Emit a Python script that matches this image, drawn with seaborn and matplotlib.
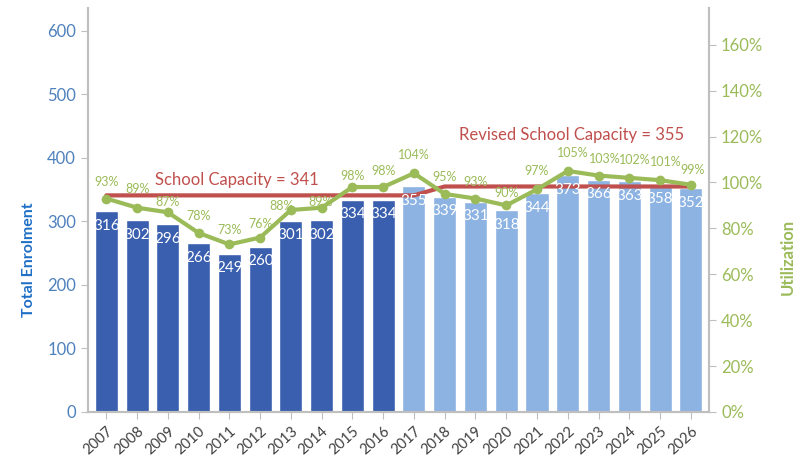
import matplotlib.pyplot as plt
import numpy as np
import pandas as pd
import seaborn as sns

years = [str(y) for y in range(2007, 2027)]
enrolment = [316, 302, 296, 266, 249, 260, 301, 302, 334, 334,
             355, 339, 331, 318, 344, 373, 366, 363, 358, 352]
utilization = [93, 89, 87, 78, 73, 76, 88, 89, 98, 98,
               104, 95, 93, 90, 97, 105, 103, 102, 101, 99]
capacity = [341] * 11 + [355] * 9

# label nudges for the utilization labels (x in bars, y in % points)
lbl_dx = [0] * 6 + [-0.3, -0.05] + [0] * 13
lbl_dy = [7, 8.3, 4.4, 7.4, 6.1, 5.7, 1.6, 2.6, 4.8, 7,
          7.9, 7.4, 7.4, 5.2, 7.9, 7.9, 7.4, 7.6, 7.7, 6.5]
lbl_dx = lbl_dx[:15] + [0.17, 0.2, 0.17, 0.17, 0.07]

dark_blue = "#3A5FAF"
light_blue = "#8DB3E2"
green = "#9BBB59"
red = "#C0504D"
grey = "#BFBFBF"

sns.set_style("white")
plt.rcParams['font.family'] = ['Lato', 'DejaVu Sans']

df = pd.DataFrame({"Year": years, "Enrolment": enrolment,
                   "Utilization": utilization, "Capacity": capacity})
df["pos"] = np.arange(len(years))
pal = [dark_blue] * 10 + [light_blue] * 10

fig = plt.figure(figsize=(8.06, 4.57), dpi=100)
ax = fig.add_axes([0.109, 0.0985, 0.771, 0.884])

sns.barplot(data=df, x="Year", y="Enrolment", hue="Year", palette=pal,
            legend=False, width=0.75, saturation=1, ax=ax)
sns.lineplot(data=df, x="pos", y="Capacity", color=red, linewidth=3, ax=ax, zorder=3)

for i, v in enumerate(enrolment):
    ax.text(i, v - 23, str(v), ha="center", va="center", color="white", fontsize=11, zorder=4)

ax.set_ylim(0, 636)
ax.set_xlim(-0.6, 19.6)
ax.set_yticks(range(0, 601, 100))
ax.tick_params(axis="y", colors="#4F81BD", labelsize=12, length=5, direction="out", left=True)
ax.tick_params(axis="y", color=grey)
ax.tick_params(axis="x", labelsize=10.5, labelcolor="#404040", color=grey, bottom=True, length=5)
for lbl in ax.get_xticklabels():
    lbl.set_rotation(42)
    lbl.set_ha("right")
    lbl.set_rotation_mode("anchor")
ax.set_xlabel("")
ax.set_ylabel("Total Enrolment", color="#1F6FC5", fontsize=11.5, fontweight="bold")
ax.yaxis.set_label_coords(-0.084, 0.376)
for s in ["left", "bottom", "right"]:
    ax.spines[s].set_color(grey)
    ax.spines[s].set_linewidth(1.5)
ax.spines["top"].set_visible(False)

ax.text(4.25, 365, "School Capacity = 341", color=red, fontsize=12, ha="center", va="center")
ax.text(15.13, 436, "Revised School Capacity = 355", color=red, fontsize=12, ha="center", va="center")

ax2 = ax.twinx()
sns.lineplot(data=df, x="pos", y="Utilization", color=green, linewidth=3,
             marker="o", markersize=7, markeredgewidth=0, ax=ax2, zorder=5)
for i, v in enumerate(utilization):
    ax2.text(i + lbl_dx[i], v + lbl_dy[i], f"{v}%", ha="center", va="center",
             color=green, fontsize=9, zorder=6)
ax2.set_ylim(0, 176)
ax2.set_yticks(range(0, 161, 20))
ax2.set_yticklabels([f"{t}%" for t in range(0, 161, 20)])
ax2.tick_params(axis="y", colors=green, labelsize=12, length=5, right=True)
ax2.tick_params(axis="y", color=grey)
ax2.set_ylabel("Utilization", color=green, fontsize=12, fontweight="bold")
ax2.yaxis.set_label_coords(1.114, 0.384)
for s in ["left", "bottom", "right"]:
    ax2.spines[s].set_color(grey)
    ax2.spines[s].set_linewidth(1.5)
ax2.spines["top"].set_visible(False)
ax2.set_xlabel("")

fig.savefig("out.png", dpi=100)
